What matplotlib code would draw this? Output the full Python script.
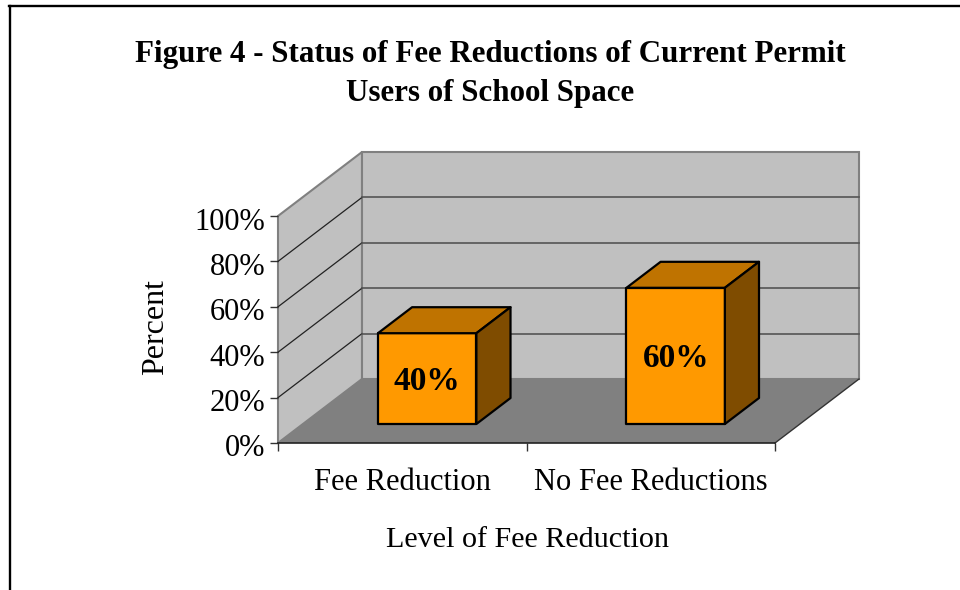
#!/usr/bin/env python3
import matplotlib
matplotlib.use('Agg')
import matplotlib.pyplot as plt
from matplotlib.patches import Polygon
from matplotlib.transforms import ScaledTranslation

plt.rcParams['font.family'] = ['Liberation Serif', 'DejaVu Serif']

# Data
categories = ['Fee Reduction', 'No Fee Reductions']
percent = [40, 60]
y_ticks = [0, 20, 40, 60, 80, 100]
title = 'Figure 4 - Status of Fee Reductions of Current Permit\nUsers of School Space'

W, H = 960, 590
fig = plt.figure(figsize=(W / 100, H / 100), dpi=100)

# Front plane of the 3D box: x = 0..2 categories, y = 0..100 percent
ax = fig.add_axes([278 / W, (H - 443) / H, 497 / W, 227 / H])
ax.set_xlim(0, 2)
ax.set_ylim(0, 100)
for s in ax.spines.values():
    s.set_visible(False)
ax.patch.set_visible(False)

# Oblique depth of the box, in data units
DX = 84 / 248.5
DY = 64 / 2.27


def proj(x, y, d):
    # d is depth, 0 = front, 1 = back
    return (x + DX * d, y + DY * d)


def face(pts, **kw):
    ax.add_patch(Polygon([proj(*p) for p in pts], closed=True, clip_on=False, **kw))


# Walls and floor
wall = '#c0c0c0'
edge = '#808080'
face([(0, 0, 0), (0, 100, 0), (0, 100, 1), (0, 0, 1)], fc=wall, ec=edge, lw=1.5, zorder=1)
face([(0, 0, 1), (0, 100, 1), (2, 100, 1), (2, 0, 1)], fc=wall, ec=edge, lw=1.5, zorder=1)
face([(0, 0, 0), (0, 0, 1), (2, 0, 1), (2, 0, 0)], fc='#808080', ec='none', zorder=2)

# Gridlines run along side wall and back wall
for t in y_ticks[1:-1]:
    x0, y0 = proj(0, t, 0)
    x1, y1 = proj(0, t, 1)
    x2, y2 = proj(2, t, 1)
    ax.plot([x0, x1], [y0, y1], color='#222222', lw=0.9, clip_on=False, zorder=3)
    ax.plot([x1, x2], [y1, y2], color='#555555', lw=1.2, clip_on=False, zorder=3)

# Floor edges
x1, y1 = proj(2, 0, 1)
ax.plot([2, x1], [0, y1], color='#333333', lw=1.0, clip_on=False, zorder=3)
ax.plot([0, 2], [0, 0], color='#222222', lw=1.2, clip_on=False, zorder=3)

# Bars
bar_w = 0.396
d0, d1 = 0.297, 0.703
for i, (cat, val) in enumerate(zip(categories, percent)):
    xl, xr = i + 0.5 - bar_w / 2, i + 0.5 + bar_w / 2
    kw = dict(ec='black', lw=1.6, joinstyle='round', zorder=5)
    face([(xl, 0, d0), (xl, val, d0), (xr, val, d0), (xr, 0, d0)], fc='#ff9900', **kw)
    face([(xl, val, d0), (xl, val, d1), (xr, val, d1), (xr, val, d0)], fc='#bf7300', **kw)
    face([(xr, 0, d0), (xr, val, d0), (xr, val, d1), (xr, 0, d1)], fc='#7f4c00', **kw)
    lx, ly = proj(i + 0.5, val / 2, d0)
    ax.annotate(f'{val}%', (lx, ly), xytext=(0, -3), textcoords='offset pixels',
                ha='center', va='center', fontsize=24, fontweight='bold',
                color='black', zorder=6)

# Axes ticks and labels
ax.set_xticks([0, 1, 2])
ax.set_xticklabels([])
ax.set_yticks(y_ticks)
ax.set_yticklabels([f'{t}%' for t in y_ticks], fontsize=22)
ax.tick_params(axis='both', length=6, width=1, color='#333333', pad=3)
shift = ScaledTranslation(0, -2.5 / 100, fig.dpi_scale_trans)
for lab in ax.get_yticklabels():
    lab.set_transform(lab.get_transform() + shift)
for i, cat in enumerate(categories):
    ax.annotate(cat, (i + 0.5, 0), xytext=(0, -39), textcoords='offset pixels',
                ha='center', va='center', fontsize=22, annotation_clip=False)

fig.text(527 / W, 1 - 540 / H, 'Level of Fee Reduction', ha='center', va='center', fontsize=21.7)
fig.text(156 / W, 1 - 327 / H, 'Percent', ha='center', va='center', rotation=90, fontsize=23)
fig.text(490 / W, 1 - 74 / H, title, ha='center', va='center', fontsize=22.3,
         fontweight='bold', linespacing=1.45)

# Outer frame, open on the right and bottom of the crop
fig.add_artist(plt.Line2D([10 / W, 10 / W], [0, 1 - 6 / H], color='black', lw=1.7))
fig.add_artist(plt.Line2D([9 / W, 1], [1 - 6 / H, 1 - 6 / H], color='black', lw=1.7))

fig.savefig('out.png', dpi=100)
